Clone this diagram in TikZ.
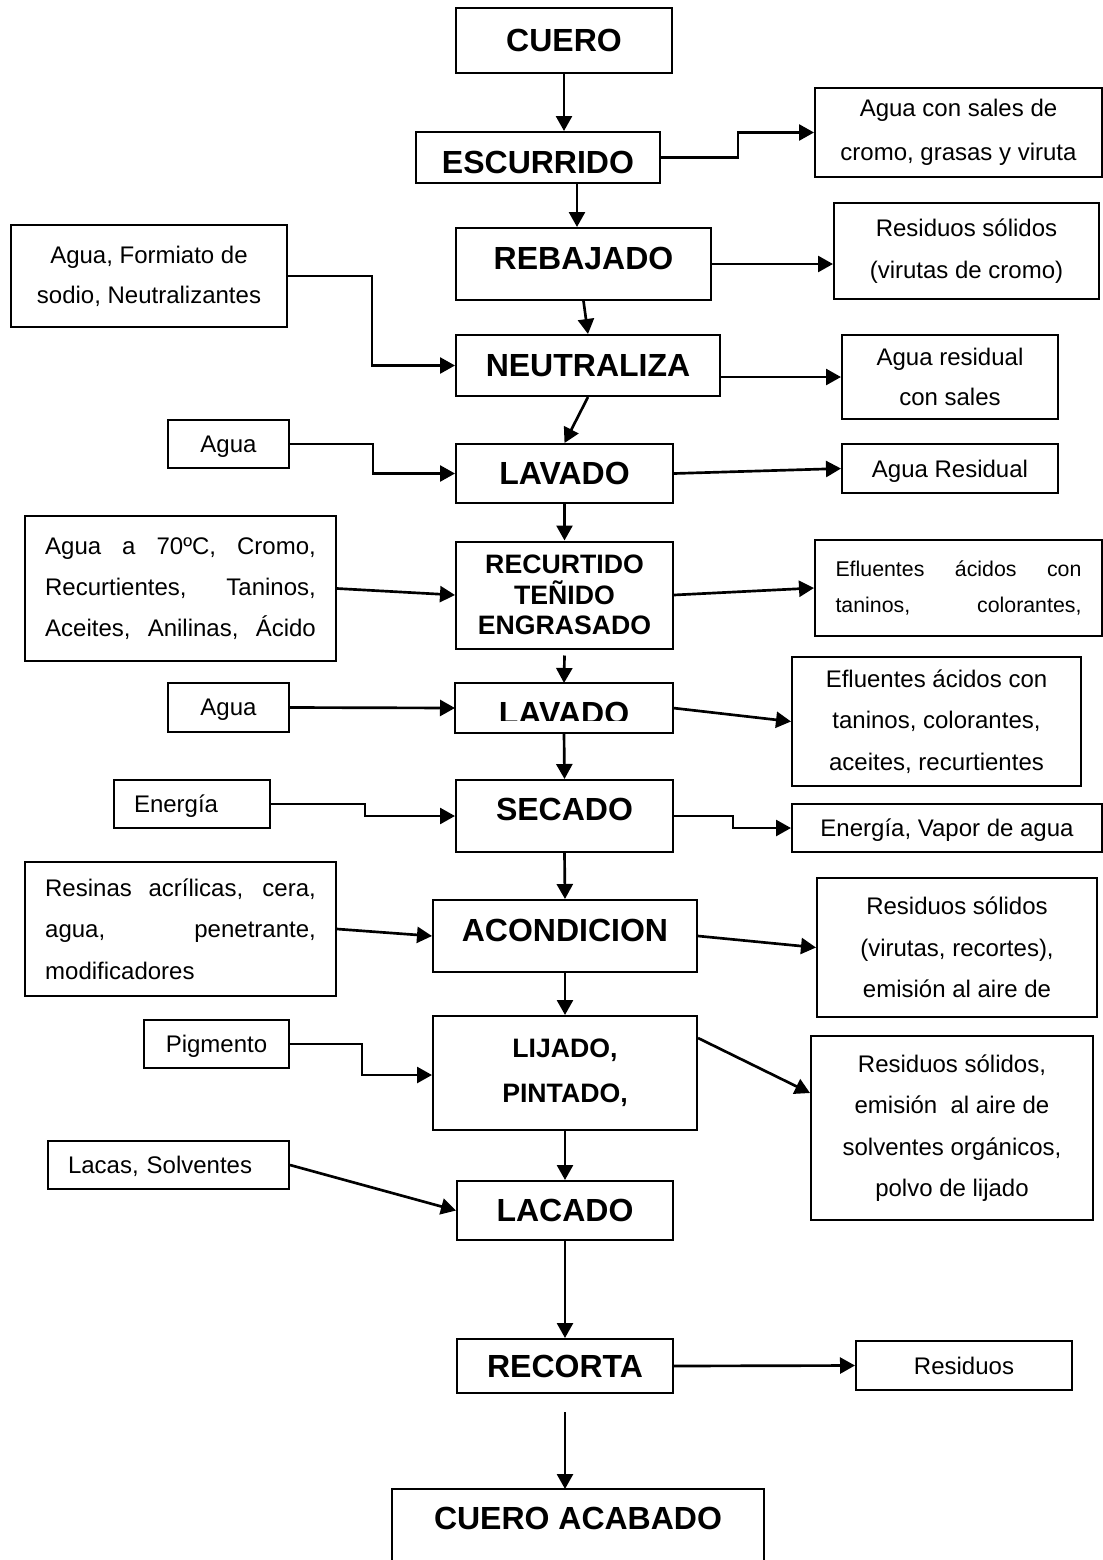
\documentclass[tikz,border=0pt]{standalone}
\usepackage{fontspec}
\setmainfont{Liberation Sans}
\usetikzlibrary{arrows.meta,calc}
\tikzset{
  box/.style={draw, line width=1.5pt, inner sep=0pt, align=center},
  wh/.style 2 args={minimum width=#1*0.75pt, minimum height=#2*0.75pt},
  pbox/.style={box, font=\fontsize{24}{28}\selectfont\bfseries},
  sbox/.style={box, font=\fontsize{20}{23}\selectfont\bfseries},
  tbox/.style={box, font=\fontsize{18}{31}\selectfont},
  oneline/.style={text depth=0pt},
  lbox/.style={tbox, oneline, align=left, inner xsep=15pt},
  arr/.style={line width=2pt, -{Triangle[length=11.25pt,width=12pt]}},
  bline/.style={line width=1.5pt}
}
\begin{document}
\begin{tikzpicture}[x=0.75pt,y=-0.75pt]
\useasboundingbox (0,0) rectangle (1103,1560);
\coordinate (pagebottom) at (0,1575);

% process column
\node[pbox, wh={216}{65}] (cuero) at (564,40.5) {CUERO};
\node[pbox, wh={244}{51}, text height=24.7pt] (esc) at (538,157.5) {ESCURRIDO};
\node[pbox, wh={255}{72}, text depth=9pt] (reb) at (583.5,264) {REBAJADO};
\node[pbox, wh={264}{61}] (neu) at (588,365.5) {NEUTRALIZA};
\node[pbox, wh={217}{59}] (lav1) at (564.5,473.5) {LAVADO};
\node[sbox, wh={217}{107}] (rec) at (564.5,595) {RECURTIDO\\TEÑIDO\\ENGRASADO};
\begin{scope}
  \clip (0,0) rectangle (1103,720);
  \node[pbox, draw=none, wh={216}{48}, text height=24.7pt] (lav2) at (564,708) {LAVADO};
\end{scope}
\draw[bline] (lav2.south west) rectangle (lav2.north east);
\node[pbox, wh={217}{72}, text depth=10.5pt] (sec) at (564.5,816) {SECADO};
\node[pbox, wh={264}{72}, text depth=9pt] (acon) at (565,936) {ACONDICION};
\node[sbox, wh={264}{114}, font=\fontsize{20}{34}\selectfont\bfseries] (lij) at (565,1073) {LIJADO,\\PINTADO,};
\node[pbox, wh={216}{59}] (lac) at (565,1210.5) {LACADO};
\node[pbox, wh={216}{54}] (recor) at (565,1366) {RECORTA};
\node[pbox, draw=none, wh={370}{56}] (acab) at (578,1518) {CUERO ACABADO};
\draw[bline] (acab.west |- pagebottom) -- (acab.north west) -- (acab.north east) -- (acab.east |- pagebottom);

% inputs (left)
\node[tbox, wh={276}{102}, font=\fontsize{18}{30}\selectfont] (formiato) at (149,276) {Agua, Formiato de\\sodio, Neutralizantes};
\node[tbox, oneline, wh={121}{48}] (agua1) at (228.5,444) {Agua};
\node[tbox, wh={311}{145}] (a70) at (180.5,588.5) {\makebox[203pt][s]{Agua a 70ºC, Cromo,}\\\makebox[203pt][s]{Recurtientes, Taninos,}\\\makebox[203pt][s]{Aceites, Anilinas, Ácido}};
\node[tbox, oneline, wh={121}{49}] (agua2) at (228.5,707.5) {Agua};
\node[lbox, wh={156}{48}, text width=87pt] (energia) at (192,804) {Energía};
\node[tbox, wh={311}{134}] (resinas) at (180.5,929) {\makebox[203pt][s]{Resinas acrílicas, cera,}\\\makebox[203pt][s]{agua, penetrante,}\\\makebox[203pt][l]{modificadores}};
\node[tbox, oneline, wh={145}{48}] (pigm) at (216.5,1044) {Pigmento};
\node[lbox, wh={241}{48}, text width=150.75pt] (lacas) at (168.5,1165) {Lacas, Solventes};

% outputs (right)
\node[tbox, wh={287}{89}, font=\fontsize{18}{33}\selectfont] (aguasales) at (958.5,132.5) {Agua con sales de\\cromo, grasas y viruta};
\node[tbox, wh={265}{96}, font=\fontsize{18}{32}\selectfont] (ressol) at (966.5,251) {Residuos sólidos\\(virutas de cromo)};
\node[tbox, wh={216}{84}, font=\fontsize{18}{30}\selectfont] (aguares) at (950,377) {Agua residual\\con sales};
\node[tbox, oneline, wh={216}{49}] (aguaR) at (950,468.5) {Agua Residual};
\node[tbox, wh={287}{96}, font=\fontsize{16}{27}\selectfont] (efl1) at (958.5,588) {\makebox[184.5pt][s]{Efluentes ácidos con}\\\makebox[184.5pt][s]{taninos, colorantes,}};
\node[tbox, wh={289}{129}] (efl2) at (936.5,721.5) {Efluentes ácidos con\\taninos, colorantes,\\aceites, recurtientes};
\node[tbox, oneline, wh={310}{48}] (vapor) at (947,828) {Energía, Vapor de agua};
\node[tbox, wh={280}{139}] (res2) at (957,947.5) {Residuos sólidos\\(virutas, recortes),\\emisión al aire de};
\node[tbox, wh={282}{184}] (res3) at (952,1128) {Residuos sólidos,\\emisión\ \ al aire de\\solventes orgánicos,\\polvo de lijado};
\node[tbox, oneline, wh={216}{49}] (resid) at (964,1365.5) {Residuos};

% main flow
\coordinate (acabstart) at ($(recor.south)+(0,18)$);
\draw[arr] (cuero.south) -- (cuero.south |- esc.north);
\draw[arr] ($(esc.south)+(39,0)$) -- ($(reb.north)+(-6.5,0)$);
\draw[arr] (reb.south) -- (neu.north);
\draw[arr] (neu.south) -- (lav1.north);
\draw[arr] (lav1.south) -- (rec.north);
\draw[arr] ($(rec.south)+(0,6)$) -- (lav2.north);
\draw[arr] (lav2.south) -- (sec.north);
\draw[arr] (sec.south) -- (acon.north);
\draw[arr] (acon.south) -- (lij.north);
\draw[arr] (lij.south) -- (lac.north);
\draw[arr] (lac.south) -- (recor.north);
\draw[arr] (acabstart) -- (acabstart |- acab.north);

% inputs
\draw[arr] (formiato.east) -- ++(84,0) |- (neu.west);
\draw[arr] (agua1.east) -- ++(83,0) |- (lav1.west);
\draw[arr] (a70.east) -- (rec.west);
\draw[arr] (agua2.east) -- (lav2.west);
\draw[arr] (energia.east) -- ++(94,0) |- (sec.west);
\draw[arr] (resinas.east) -- (acon.west);
\draw[arr] (pigm.east) -- ++(72,0) |- ($(lij.west)+(0,2)$);
\draw[arr] (lacas.east) -- (lac.west);

% outputs
\draw[arr] (esc.east) -- ++(77,0) |- (aguasales.west);
\draw[arr] (reb.east) -- (reb.east -| ressol.west);
\draw[arr] (neu.east |- aguares.west) -- (aguares.west);
\draw[arr] (lav1.east) -- (aguaR.west);
\draw[arr] (rec.east) -- (efl1.west);
\draw[arr] (lav2.east) -- (efl2.west);
\draw[arr] (sec.east) -- ++(59,0) |- (vapor.west);
\draw[arr] (acon.east) -- (res2.west);
\draw[arr] ($(lij.north east)+(0,23)$) -- ($(res3.north west)+(0,58)$);
\draw[arr] (recor.east) -- (resid.west);
\end{tikzpicture}
\end{document}
